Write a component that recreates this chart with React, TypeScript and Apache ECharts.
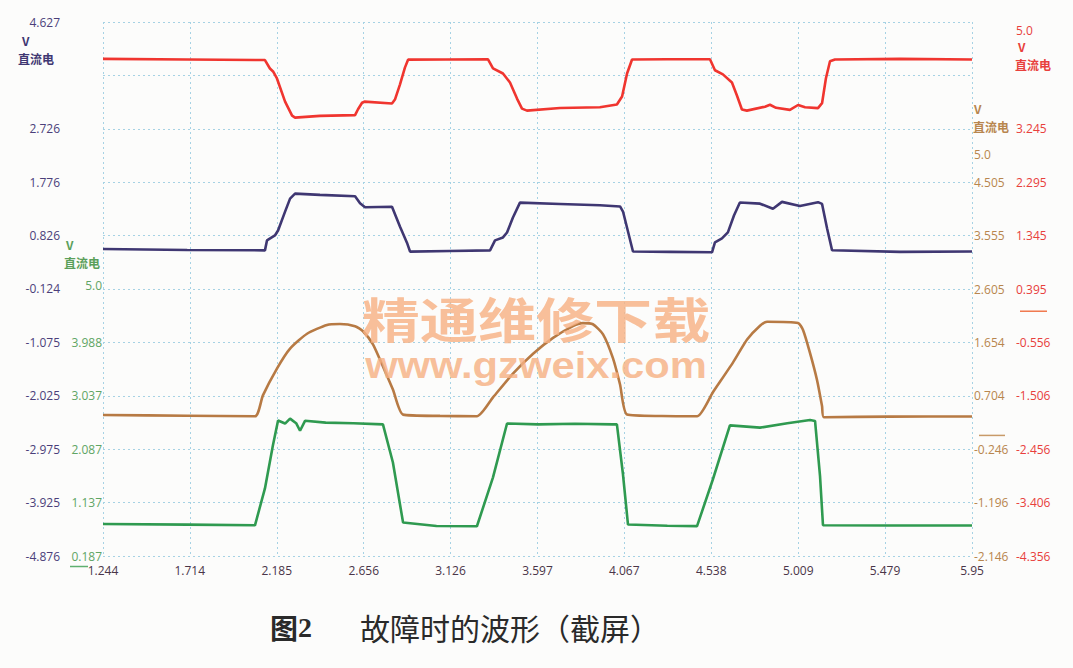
import React, { useEffect, useRef } from 'react';
import * as echarts from 'echarts';

// ---- tick labels ----
const xTickLabels = ['1.244', '1.714', '2.185', '2.656', '3.126', '3.597', '4.067', '4.538', '5.009', '5.479', '5.95'];
const purpleTickLabels = ['4.627', '2.726', '1.776', '0.826', '-0.124', '-1.075', '-2.025', '-2.975', '-3.925', '-4.876'];
const greenTickLabels = ['5.0', '3.988', '3.037', '2.087', '1.137', '0.187'];
const brownTickLabels = ['5.0', '4.505', '3.555', '2.605', '1.654', '0.704', '-0.246', '-1.196', '-2.146'];
const redTickLabels = ['5.0', '3.245', '2.295', '1.345', '0.395', '-0.556', '-1.506', '-2.456', '-3.406', '-4.356'];

// ---- axis ranges (each channel: 10 divisions of ~0.95 V) ----
const xRange = [1.244, 5.95];
const purpleRange = [-4.876, 4.627];
const greenRange = [0.187, 9.69];
const brownRange = [-2.146, 7.357];
const redRange = [-4.356, 5.147];

// ---- red channel ----
const redT = [1.244, 1.7, 2.121, 2.148, 2.165, 2.186, 2.23, 2.268, 2.284, 2.419, 2.609, 2.625, 2.647, 2.66, 2.809, 2.825, 2.852, 2.879, 2.896, 3.1, 3.329, 3.356, 3.41, 3.448, 3.486, 3.513, 3.54, 3.719, 3.935, 4.027, 4.055, 4.082, 4.109, 4.3, 4.531, 4.558, 4.601, 4.65, 4.677, 4.704, 4.731, 4.829, 4.856, 4.889, 4.964, 5.008, 5.046, 5.116, 5.138, 5.159, 5.181, 5.208, 5.56, 5.95];
const redV = [4.49, 4.48, 4.47, 4.32, 4.267, 4.142, 3.731, 3.481, 3.446, 3.476, 3.489, 3.595, 3.71, 3.73, 3.697, 3.767, 4.033, 4.335, 4.477, 4.48, 4.483, 4.322, 4.231, 4.07, 3.784, 3.606, 3.57, 3.617, 3.629, 3.68, 3.821, 4.23, 4.479, 4.485, 4.484, 4.288, 4.215, 4.071, 3.839, 3.589, 3.57, 3.64, 3.674, 3.62, 3.583, 3.67, 3.63, 3.615, 3.702, 4.146, 4.448, 4.48, 4.49, 4.48];

// ---- purple channel ----
const purpleT = [1.244, 1.7, 2.121, 2.132, 2.175, 2.192, 2.23, 2.257, 2.284, 2.419, 2.609, 2.636, 2.663, 2.809, 2.852, 2.89, 2.907, 3.123, 3.34, 3.367, 3.41, 3.432, 3.464, 3.502, 3.719, 3.935, 4.044, 4.06, 4.087, 4.114, 4.315, 4.542, 4.558, 4.596, 4.628, 4.661, 4.693, 4.802, 4.872, 4.921, 5.018, 5.116, 5.138, 5.165, 5.192, 5.56, 5.95];
const purpleV = [0.587, 0.57, 0.563, 0.74, 0.828, 0.917, 1.253, 1.484, 1.572, 1.551, 1.527, 1.402, 1.33, 1.34, 0.986, 0.7, 0.54, 0.552, 0.563, 0.741, 0.793, 0.881, 1.147, 1.413, 1.389, 1.365, 1.345, 1.254, 0.898, 0.542, 0.536, 0.529, 0.707, 0.777, 0.883, 1.184, 1.415, 1.394, 1.303, 1.426, 1.352, 1.421, 1.39, 0.957, 0.565, 0.536, 0.544];

// ---- brown channel ----
const brownT = [1.244, 1.7, 2.067, 2.11, 2.186, 2.257, 2.349, 2.457, 2.527, 2.609, 2.652, 2.706, 2.76, 2.814, 2.869, 3.069, 3.269, 3.356, 3.464, 3.573, 3.681, 3.789, 3.843, 3.897, 3.952, 4.006, 4.044, 4.082, 4.27, 4.461, 4.547, 4.656, 4.732, 4.802, 4.84, 5.008, 5.035, 5.073, 5.111, 5.138, 5.148, 5.5, 5.95];
const brownV = [0.363, 0.35, 0.34, 0.712, 1.19, 1.545, 1.809, 1.966, 1.982, 1.944, 1.854, 1.621, 1.228, 0.817, 0.37, 0.347, 0.341, 0.677, 1.101, 1.454, 1.736, 1.946, 1.998, 1.978, 1.799, 1.37, 0.906, 0.371, 0.345, 0.34, 0.768, 1.299, 1.706, 1.953, 2.023, 2.0, 1.876, 1.465, 0.983, 0.52, 0.324, 0.335, 0.337];

// ---- green channel ----
const greenT = [1.244, 1.7, 2.067, 2.121, 2.164, 2.192, 2.23, 2.257, 2.29, 2.311, 2.338, 2.45, 2.6, 2.76, 2.814, 2.869, 3.05, 3.269, 3.356, 3.432, 3.6, 3.8, 4.006, 4.027, 4.06, 4.087, 4.3, 4.461, 4.547, 4.639, 4.802, 4.95, 5.073, 5.1, 5.127, 5.143, 5.5, 5.95];
const greenV = [0.756, 0.745, 0.733, 1.39, 2.154, 2.598, 2.544, 2.632, 2.55, 2.416, 2.593, 2.56, 2.55, 2.529, 1.851, 0.782, 0.72, 0.716, 1.587, 2.545, 2.53, 2.54, 2.529, 2.53, 1.637, 0.747, 0.725, 0.718, 1.553, 2.511, 2.471, 2.55, 2.606, 2.59, 1.608, 0.735, 0.73, 0.73];

const PURPLE = '#3f3772';
const GREEN = '#2f9a50';
const BROWN = '#b77a44';
const RED = '#f0352f';

const zip = (t: number[], v: number[]) => t.map((x, i) => [x, v[i]]);
const fmt = (labels: string[]) => (v: number) => {
  const i = labels.findIndex((l) => Math.abs(parseFloat(l) - v) < 1e-6);
  return i >= 0 ? labels[i] : '';
};

const LABEL_FONT = 'Open Sans';

function labelAxis(range: number[], labels: string[], position: string, offset: number, color: string, margin: number) {
  return {
    type: 'value',
    min: range[0],
    max: range[1],
    position,
    offset,
    axisLine: { show: false },
    axisTick: { show: false },
    splitLine: { show: false },
    axisLabel: {
      customValues: labels.map(Number),
      formatter: fmt(labels),
      color,
      fontSize: 12,
      fontFamily: LABEL_FONT,
      margin,
    },
  };
}

export default function App() {
  const ref = useRef<HTMLDivElement>(null);
  useEffect(() => {
    document.body.style.margin = '0';
    if (!ref.current) return;
    const chart = echarts.init(ref.current, null, { renderer: 'svg' });
    const gridLine = { show: true, lineStyle: { color: '#a6d2e4', width: 1, type: [2, 3] } };
    const nameStyle = (color: string) => ({ fill: color, fontSize: 12, fontFamily: 'Noto Sans CJK SC', fontWeight: 'bold' });
    const graphics: any[] = [
      { type: 'text', left: 22, top: 34, style: { text: 'V', ...nameStyle(PURPLE) } },
      { type: 'text', left: 18, top: 52, style: { text: '直流电', ...nameStyle(PURPLE) } },
      { type: 'text', left: 66, top: 238, style: { text: 'V', ...nameStyle('#5aa05a') } },
      { type: 'text', left: 64, top: 256, style: { text: '直流电', ...nameStyle('#5aa05a') } },
      { type: 'text', left: 974, top: 102, style: { text: 'V', ...nameStyle('#b8864e') } },
      { type: 'text', left: 973, top: 120, style: { text: '直流电', ...nameStyle('#b8864e') } },
      { type: 'text', left: 1018, top: 40, style: { text: 'V', ...nameStyle('#e8403c') } },
      { type: 'text', left: 1015, top: 58, style: { text: '直流电', ...nameStyle('#e8403c') } },
      {
        type: 'text', x: 536, y: 317, z: 50, scaleX: 1.21,
        style: { text: '精通维修下载', fill: '#f6b184', opacity: 0.82, fontSize: 48, fontWeight: 'bold', fontFamily: 'Noto Sans CJK SC', align: 'center', verticalAlign: 'middle' },
      },
      {
        type: 'text', x: 536, y: 366, z: 50, scaleX: 1.16,
        style: { text: 'www.gzweix.com', fill: '#f6b184', opacity: 0.82, fontSize: 36, fontWeight: 'bold', fontFamily: 'Liberation Sans', align: 'center', verticalAlign: 'middle' },
      },
      {
        type: 'text', x: 270, y: 627,
        style: {
          text: '{a|图}{b|2}', verticalAlign: 'middle',
          rich: {
            a: { fontSize: 28, fontWeight: 'bold', fontFamily: 'Noto Sans CJK SC', fill: '#2a2a2a' },
            b: { fontSize: 28, fontWeight: 'bold', fontFamily: 'Liberation Serif', fill: '#2a2a2a' },
          },
        },
      },
      {
        type: 'text', x: 360, y: 627,
        style: { text: '故障时的波形（截屏）', fontSize: 30, fontFamily: 'Noto Sans CJK SC', fill: '#2a2a2a', verticalAlign: 'middle' },
      },
    ];
    const option: any = {
      animation: false,
      backgroundColor: '#fcfcfb',
      grid: { left: 103, right: 101, top: 22, bottom: 112, containLabel: false },
      xAxis: [
        {
          type: 'value', min: xRange[0], max: xRange[1],
          axisLine: { show: false }, axisTick: { show: false }, splitLine: { show: false },
          axisLabel: { customValues: xTickLabels.map(Number), formatter: fmt(xTickLabels), color: '#4a3548', fontSize: 12, fontFamily: LABEL_FONT, margin: 8 },
        },
        {
          type: 'value', min: 0, max: 10, interval: 1, position: 'bottom',
          axisLine: { show: false }, axisTick: { show: false }, axisLabel: { show: false }, splitLine: gridLine,
        },
      ],
      yAxis: [
        labelAxis(purpleRange, purpleTickLabels, 'left', 40, '#4b3f7a', 3),
        labelAxis(greenRange, greenTickLabels, 'left', 0, '#5fa564', 1),
        labelAxis(brownRange, brownTickLabels, 'right', 0, '#b8864e', 2),
        labelAxis(redRange, redTickLabels, 'right', 43, '#e8403c', 1),
        {
          type: 'value', min: 0, max: 10, interval: 1, position: 'left',
          axisLine: { show: false }, axisTick: { show: false }, axisLabel: { show: false }, splitLine: gridLine,
        },
      ],
      series: [
        { type: 'line', name: 'red', xAxisIndex: 0, yAxisIndex: 3, data: zip(redT, redV), showSymbol: false, lineStyle: { color: RED, width: 2.6 }, z: 3 },
        { type: 'line', name: 'purple', xAxisIndex: 0, yAxisIndex: 0, data: zip(purpleT, purpleV), showSymbol: false, lineStyle: { color: PURPLE, width: 2.6 }, z: 3 },
        { type: 'line', name: 'brown', xAxisIndex: 0, yAxisIndex: 2, data: zip(brownT, brownV), showSymbol: false, smooth: 0.2, lineStyle: { color: BROWN, width: 2.6 }, z: 3 },
        { type: 'line', name: 'green', xAxisIndex: 0, yAxisIndex: 1, data: zip(greenT, greenV), showSymbol: false, lineStyle: { color: GREEN, width: 2.6 }, z: 3 },
      ],
      graphic: graphics,
    };
    chart.setOption(option);
    // zero-level markers beside the plot, placed through each channel's axis
    const yG = chart.convertToPixel({ yAxisIndex: 1 }, 0) as number;
    const yB = chart.convertToPixel({ yAxisIndex: 2 }, 0) as number;
    const yR = chart.convertToPixel({ yAxisIndex: 3 }, 0) as number;
    const markers = [
      { type: 'line', shape: { x1: 70, y1: yG, x2: 88, y2: yG }, style: { stroke: '#5fb070', lineWidth: 1.5 } },
      { type: 'line', shape: { x1: 979, y1: yB, x2: 1005, y2: yB }, style: { stroke: '#c89a68', lineWidth: 1.5 } },
      { type: 'line', shape: { x1: 1020, y1: yR, x2: 1047, y2: yR }, style: { stroke: '#f07a50', lineWidth: 1.5 } },
    ];
    chart.setOption({ graphic: [...graphics, ...markers] });
    return () => chart.dispose();
  }, []);
  return <div ref={ref} style={{ width: 1073, height: 668 }} />;
}
